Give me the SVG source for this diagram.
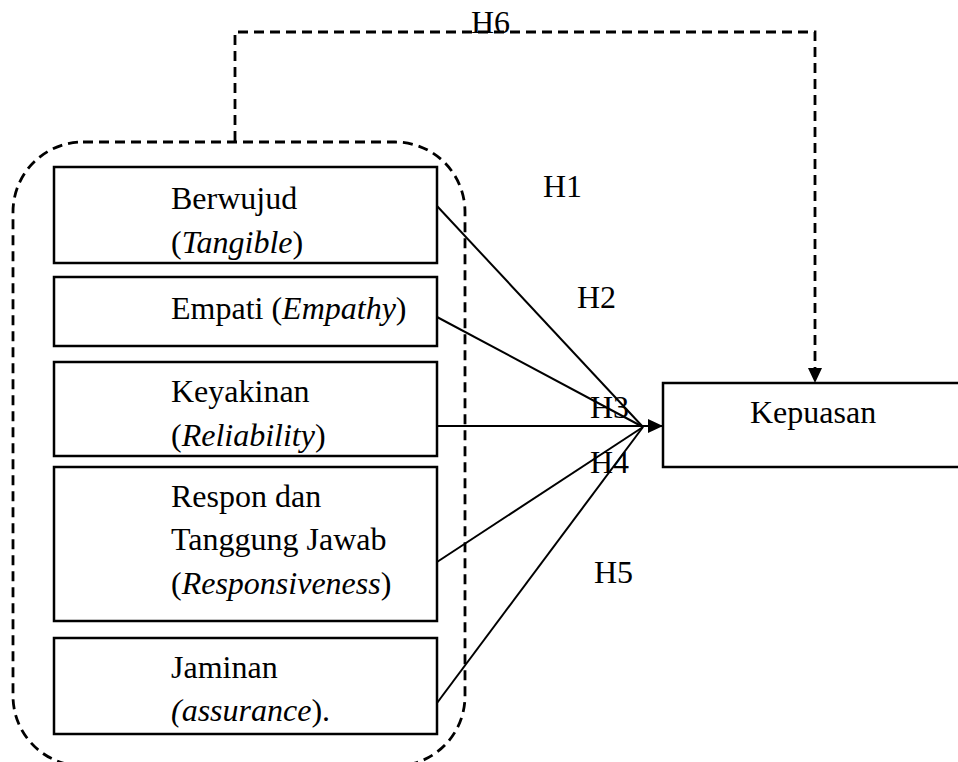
<svg xmlns="http://www.w3.org/2000/svg" width="958" height="762" viewBox="0 0 958 762">
<style>
.box{fill:#fff;stroke:#000;stroke-width:2.5}
.dash{fill:none;stroke:#000;stroke-width:2.8;stroke-dasharray:10 6}
.ln{fill:none;stroke:#000;stroke-width:2}
.t{font-family:'Liberation Serif','DejaVu Serif',serif;font-size:32px;fill:#000}
.i{font-style:italic}
</style>
<defs>
<marker id="ah" markerUnits="userSpaceOnUse" markerWidth="16" markerHeight="16" viewBox="0 0 16 16" refX="15" refY="8" orient="auto">
<path d="M0,1 L15,8 L0,15 Z" fill="#000"/>
</marker>
<clipPath id="c1"><rect x="54" y="167" width="383" height="94"/></clipPath>
<clipPath id="c3"><rect x="54" y="362" width="383" height="91"/></clipPath>
</defs>
<rect width="958" height="762" fill="#fff"/>
<g id="group-frame">
<rect class="dash" x="13" y="142" width="452" height="624" rx="70" ry="70"/>
</g>
<g id="connectors">
<path class="dash" d="M235,141 V32 H815 V369"/>
<path d="M808,368 L815,383 L822,368 Z" fill="#000"/>
<line class="ln" x1="437" y1="206" x2="643" y2="427"/>
<line class="ln" x1="437" y1="317" x2="643" y2="427"/>
<line class="ln" x1="437" y1="426" x2="663" y2="426" marker-end="url(#ah)"/>
<line class="ln" x1="437" y1="562" x2="643" y2="427"/>
<line class="ln" x1="437" y1="703" x2="643" y2="427"/>
</g>
<g id="labels" font-family="Liberation Serif, DejaVu Serif, serif">
<text class="t" x="471" y="33">H6</text>
<text class="t" x="543" y="197">H1</text>
<text class="t" x="577" y="308">H2</text>
<text class="t" x="590" y="418">H3</text>
<text class="t" x="590" y="473">H4</text>
<text class="t" x="594" y="583">H5</text>
</g>
<g id="node-berwujud">
<rect class="box" x="54" y="167" width="383" height="96"/>
<g clip-path="url(#c1)">
<text class="t" x="171" y="209">Berwujud</text>
<text class="t" x="171" y="253">(<tspan class="i">Tangible</tspan>)</text>
</g>
</g>
<g id="node-empati">
<rect class="box" x="54" y="277" width="383" height="69"/>
<text class="t" x="171" y="319">Empati (<tspan class="i">Empathy</tspan>)</text>
</g>
<g id="node-keyakinan">
<rect class="box" x="54" y="362" width="383" height="94"/>
<g clip-path="url(#c3)">
<text class="t" x="171" y="402">Keyakinan</text>
<text class="t" x="171" y="446">(<tspan class="i">Reliability</tspan>)</text>
</g>
</g>
<g id="node-respon">
<rect class="box" x="54" y="467" width="383" height="154"/>
<text class="t" x="171" y="507">Respon dan</text>
<text class="t" x="171" y="550">Tanggung Jawab</text>
<text class="t" x="171" y="594">(<tspan class="i">Responsiveness</tspan>)</text>
</g>
<g id="node-jaminan">
<rect class="box" x="54" y="638" width="383" height="96"/>
<text class="t" x="171" y="678">Jaminan</text>
<text class="t" x="171" y="721"><tspan class="i">(assurance</tspan>).</text>
</g>
<g id="node-kepuasan">
<rect class="box" x="663" y="383" width="300" height="84"/>
<text class="t" x="750" y="423">Kepuasan</text>
</g>
</svg>
